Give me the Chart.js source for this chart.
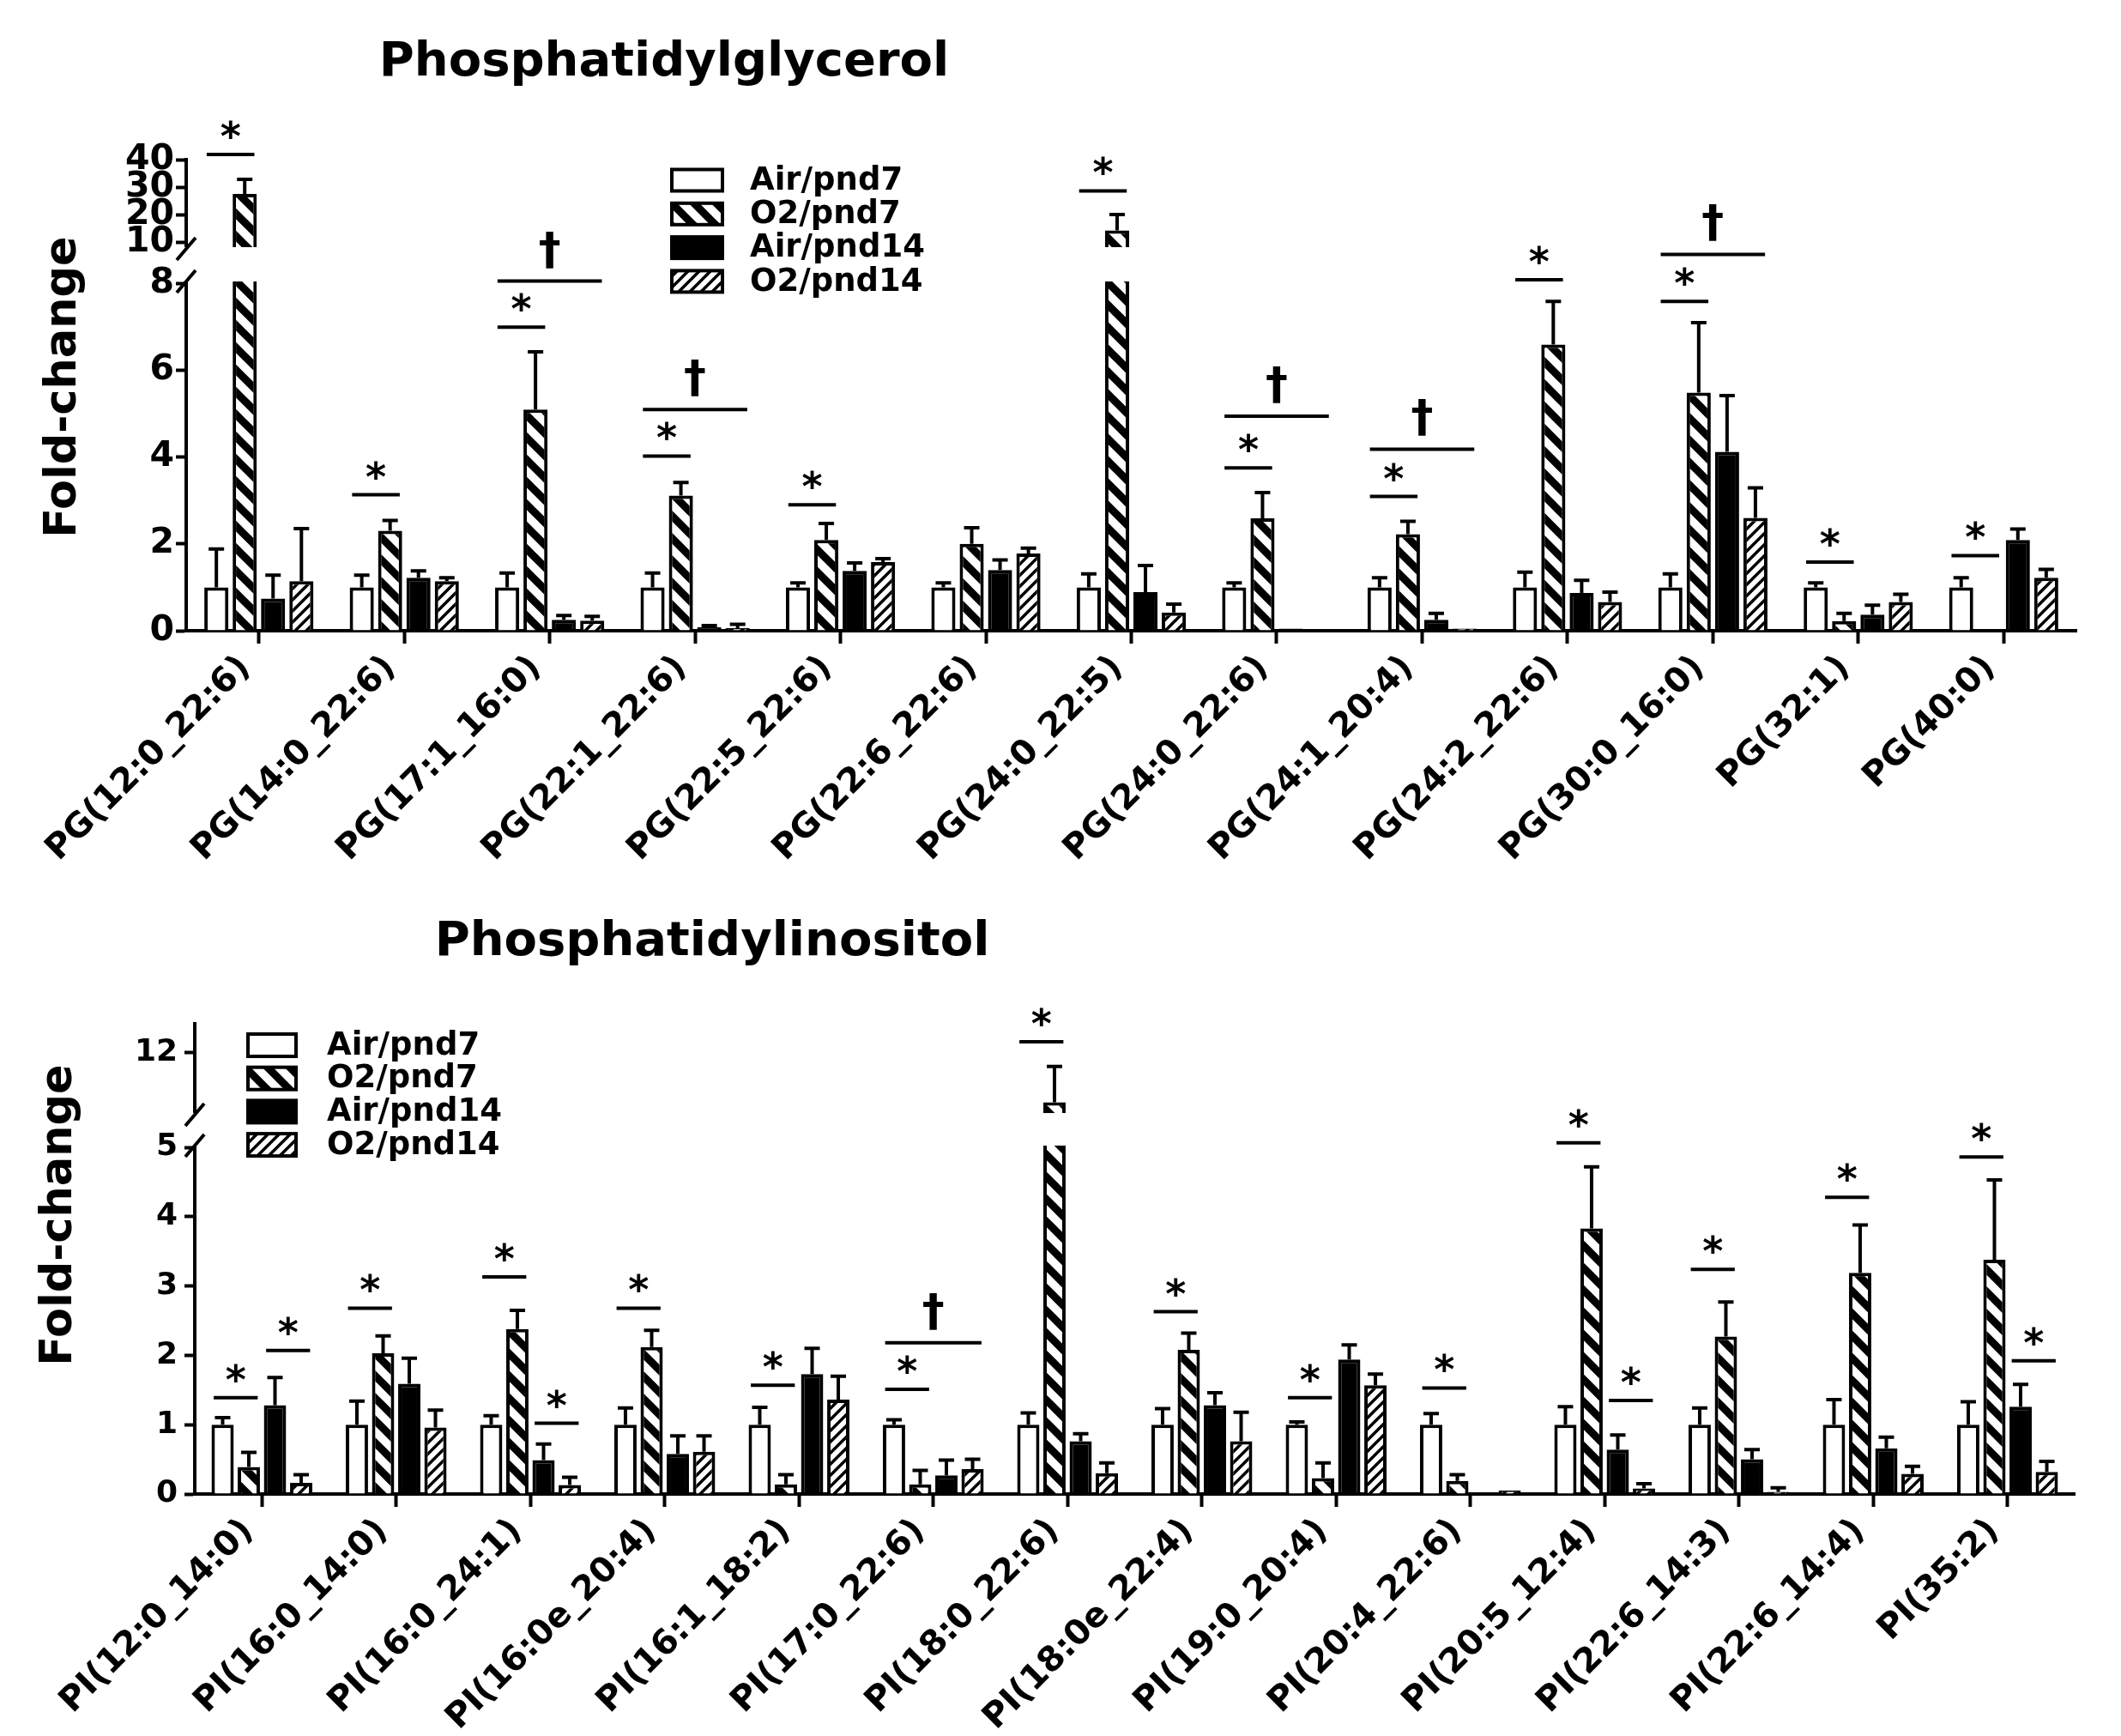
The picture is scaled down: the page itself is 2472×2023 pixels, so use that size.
<!DOCTYPE html>
<html>
<head>
<meta charset="utf-8">
<script src="https://cdn.jsdelivr.net/npm/chart.js@4.4.1/dist/chart.umd.min.js"></script>
<style>
  body { margin: 0; background: #fff; }
  #wrap { position: relative; width: 2472px; height: 2023px; background: #fff; }
  canvas { position: absolute; left: 0; }
  #pg-chart { top: 0; }
  #pi-chart { top: 1010px; }
</style>
</head>
<body>
<div id="wrap">
  <canvas id="pg-chart" width="2472" height="1010"></canvas>
  <canvas id="pi-chart" width="2472" height="1013"></canvas>
</div>
<script>
const groups = ['Air/pnd7', 'O2/pnd7', 'Air/pnd14', 'O2/pnd14']

// Phosphatidylglycerol
const pgLabels = ['PG(12:0_22:6)', 'PG(14:0_22:6)', 'PG(17:1_16:0)', 'PG(22:1_22:6)', 'PG(22:5_22:6)', 'PG(22:6_22:6)', 'PG(24:0_22:5)',
                  'PG(24:0_22:6)', 'PG(24:1_20:4)', 'PG(24:2_22:6)', 'PG(30:0_16:0)', 'PG(32:1)', 'PG(40:0)']
const pgAirP7 = [1, 1, 1, 1, 1, 1, 1, 1, 1, 1, 1, 1, 1]
const pgAirP7Err = [0.88, 0.28, 0.33, 0.33, 0.1, 0.1, 0.31, 0.1, 0.22, 0.35, 0.31, 0.1, 0.22]
const pgO2P7 = [27.5, 2.30, 5.09, 3.11, 2.09, 2.0, 14.2, 2.59, 2.22, 6.59, 5.48, 0.22, 0]
const pgO2P7Err = [5.3, 0.24, 1.33, 0.30, 0.38, 0.37, 5.8, 0.59, 0.30, 0.99, 1.61, 0.18, 0]
const pgAirP14 = [0.74, 1.22, 0.25, 0.08, 1.38, 1.40, 0.89, 0.05, 0.25, 0.87, 4.12, 0.37, 2.09]
const pgAirP14Err = [0.54, 0.16, 0.10, 0.04, 0.18, 0.23, 0.61, 0, 0.15, 0.29, 1.29, 0.22, 0.25]
const pgO2P14 = [1.14, 1.14, 0.23, 0.06, 1.58, 1.78, 0.42, 0, 0.05, 0.66, 2.60, 0.66, 1.22]
const pgO2P14Err = [1.21, 0.08, 0.10, 0.09, 0.08, 0.12, 0.19, 0, 0, 0.23, 0.69, 0.18, 0.19]
const pgTicks = [0, 2, 4, 6, 8, 10, 20, 30, 40]
// [category, from group, to group, line level, mark]
const pgSig = [[0, 0, 1, 41.9, '*'], [1, 0, 1, 3.13, '*'], [2, 0, 1, 6.99, '*'], [2, 0, 3, 8.1, '†'],
               [3, 0, 1, 4.02, '*'], [3, 0, 3, 5.09, '†'], [4, 0, 1, 2.90, '*'], [6, 0, 1, 28.6, '*'],
               [7, 0, 1, 3.75, '*'], [7, 0, 3, 4.94, '†'], [8, 0, 1, 3.09, '*'], [8, 0, 3, 4.18, '†'],
               [9, 0, 1, 8.17, '*'], [10, 0, 1, 7.58, '*'], [10, 0, 3, 9.4, '†'], [11, 0, 1, 1.58, '*'], [12, 0, 1, 1.73, '*']]

// Phosphatidylinositol
const piLabels = ['PI(12:0_14:0)', 'PI(16:0_14:0)', 'PI(16:0_24:1)', 'PI(16:0e_20:4)', 'PI(16:1_18:2)', 'PI(17:0_22:6)', 'PI(18:0_22:6)',
                  'PI(18:0e_22:4)', 'PI(19:0_20:4)', 'PI(20:4_22:6)', 'PI(20:5_12:4)', 'PI(22:6_14:3)', 'PI(22:6_14:4)', 'PI(35:2)']
const piAirP7 = [1, 1, 1, 1, 1, 1, 1, 1, 1, 1, 1, 1, 1, 1]
const piAirP7Err = [0.10, 0.34, 0.13, 0.24, 0.25, 0.07, 0.17, 0.23, 0.04, 0.16, 0.26, 0.24, 0.36, 0.33]
const piO2P7 = [0.39, 2.03, 2.38, 2.12, 0.14, 0.14, 10.2, 2.08, 0.23, 0.19, 3.83, 2.27, 3.19, 3.38]
const piO2P7Err = [0.21, 0.25, 0.27, 0.24, 0.14, 0.20, 1.3, 0.24, 0.22, 0.09, 0.89, 0.50, 0.69, 1.15]
const piAirP14 = [1.28, 1.59, 0.49, 0.58, 1.73, 0.27, 0.76, 1.28, 1.94, 0.02, 0.64, 0.50, 0.66, 1.26]
const piAirP14Err = [0.40, 0.37, 0.23, 0.26, 0.37, 0.22, 0.11, 0.18, 0.21, 0, 0.21, 0.14, 0.16, 0.32]
const piO2P14 = [0.16, 0.96, 0.13, 0.61, 1.36, 0.36, 0.30, 0.76, 1.57, 0.05, 0.08, 0.03, 0.29, 0.32]
const piO2P14Err = [0.12, 0.25, 0.11, 0.23, 0.34, 0.14, 0.15, 0.42, 0.16, 0, 0.07, 0.06, 0.11, 0.15]
const piTicks = [0, 1, 2, 3, 4, 5, 12]
const piSig = [[0, 0, 1, 1.39, '*'], [0, 2, 3, 2.07, '*'], [1, 0, 1, 2.68, '*'], [2, 0, 1, 3.13, '*'], [2, 2, 3, 1.02, '*'],
               [3, 0, 1, 2.68, '*'], [4, 0, 1, 1.57, '*'], [5, 0, 1, 1.51, '*'], [5, 0, 3, 2.18, '†'], [6, 0, 1, 12.4, '*'],
               [7, 0, 1, 2.63, '*'], [8, 0, 1, 1.39, '*'], [9, 0, 1, 1.53, '*'], [10, 0, 1, 5.56, '*'], [10, 2, 3, 1.35, '*'],
               [11, 0, 1, 3.24, '*'], [12, 0, 1, 4.28, '*'], [13, 0, 1, 4.86, '*'], [13, 2, 3, 1.92, '*']]

const FONT = '"DejaVu Sans", sans-serif'
Chart.defaults.font.family = FONT
Chart.defaults.font.weight = 'bold'
Chart.defaults.color = '#000'

// linear scale with a gap between lowMax and highMin
class BrokenLinearScale extends Chart.LinearScale {
    buildTicks() {
        this.start = this.min
        this.end = this.max
        return this.options.brk.ticks.map(v => ({value: v}))
    }
    getPixelForValue(value) {
        const b = this.options.brk
        let dec
        if (value <= b.lowMax) {
            dec = value / b.lowMax * b.lowFrac
        } else if (value < b.highMin) {
            dec = b.lowFrac + (value - b.lowMax) / (b.highMin - b.lowMax) * b.gapFrac
        } else {
            dec = b.lowFrac + b.gapFrac + (value - b.highMin) / (b.highMax - b.highMin) * (1 - b.lowFrac - b.gapFrac)
        }
        return this.getPixelForDecimal(dec)
    }
}
BrokenLinearScale.id = 'brokenLinear'
BrokenLinearScale.defaults = Chart.LinearScale.defaults
Chart.register(BrokenLinearScale)

function hatch(size, width, dir) {
    const c = document.createElement('canvas')
    c.width = size
    c.height = size
    const g = c.getContext('2d')
    g.fillStyle = '#fff'
    g.fillRect(0, 0, size, size)
    g.strokeStyle = '#000'
    g.lineWidth = width
    g.beginPath()
    for (let k = -1; k <= 1; k++) {
        if (dir == 'back') {
            g.moveTo(k * size - 4, -4)
            g.lineTo(k * size + size + 4, size + 4)
        } else {
            g.moveTo(k * size - 4, size + 4)
            g.lineTo(k * size + size + 4, -4)
        }
    }
    g.stroke()
    return g.createPattern(c, 'repeat')
}

const decorPlugin = {
    id: 'decor',
    afterDatasetsDraw(chart, args, opts) {
        const ctx = chart.ctx
        const area = chart.chartArea
        const y = chart.scales.y
        const brk = y.options.brk
        const pLow = y.getPixelForValue(brk.lowMax)
        const pHigh = y.getPixelForValue(brk.highMin)
        ctx.save()
        ctx.fillStyle = '#fff'
        ctx.fillRect(area.left - 4, pHigh + 6, area.right - area.left + 8, pLow - pHigh - 8)
        ctx.strokeStyle = '#000'
        ctx.fillStyle = '#000'
        ctx.lineWidth = 4
        ctx.lineCap = 'butt'
        for (const py of [pLow - 2, pHigh + 8]) {
            ctx.beginPath()
            ctx.moveTo(area.left - 11, py + 13)
            ctx.lineTo(area.left + 11, py - 13)
            ctx.stroke()
        }
        chart.data.datasets.forEach((ds, i) => {
            const meta = chart.getDatasetMeta(i)
            ds.data.forEach((v, j) => {
                const e = ds.errors[j]
                if (!e) return
                const bar = meta.data[j]
                const top = y.getPixelForValue(v)
                const end = y.getPixelForValue(v + e)
                ctx.beginPath()
                ctx.moveTo(bar.x, top)
                ctx.lineTo(bar.x, end)
                ctx.moveTo(bar.x - 9, end)
                ctx.lineTo(bar.x + 9, end)
                ctx.stroke()
            })
        })
        ctx.textAlign = 'center'
        ctx.textBaseline = 'alphabetic'
        opts.sig.forEach(([cat, from, to, level, mark]) => {
            const a = chart.getDatasetMeta(from).data[cat]
            const b = chart.getDatasetMeta(to).data[cat]
            const py = y.getPixelForValue(level)
            const x0 = a.x - a.width * 0.4
            const x1 = b.x + b.width * 0.4
            ctx.beginPath()
            ctx.moveTo(x0, py)
            ctx.lineTo(x1, py)
            ctx.stroke()
            if (mark == '*') {
                ctx.font = 'bold 46px ' + FONT
                ctx.fillText(mark, (x0 + x1) / 2, py - 5)
            } else {
                ctx.font = 'bold 52px ' + FONT
                ctx.fillText(mark, (x0 + x1) / 2, py - 20)
            }
        })
        ctx.restore()
    },
    afterDraw(chart, args, opts) {
        const ctx = chart.ctx
        ctx.save()
        ctx.fillStyle = '#000'
        ctx.textAlign = 'center'
        ctx.textBaseline = 'alphabetic'
        ctx.font = 'bold 56px ' + FONT
        ctx.fillText(opts.title.text, opts.title.x, opts.title.y)
        ctx.translate(opts.yTitle.x, opts.yTitle.y)
        ctx.rotate(-Math.PI / 2)
        ctx.textBaseline = 'middle'
        ctx.font = 'bold 51px ' + FONT
        ctx.fillText(opts.yTitle.text, 0, 0)
        ctx.restore()

        const lg = opts.legend
        ctx.save()
        ctx.lineWidth = 4
        ctx.strokeStyle = '#000'
        ctx.textAlign = 'left'
        ctx.textBaseline = 'middle'
        ctx.font = 'bold 37px ' + FONT
        chart.data.datasets.forEach((ds, i) => {
            const cy = lg.y + i * lg.step
            ctx.fillStyle = ds.backgroundColor
            ctx.fillRect(lg.x, cy - lg.h / 2, lg.w, lg.h)
            ctx.strokeRect(lg.x, cy - lg.h / 2, lg.w, lg.h)
            ctx.fillStyle = '#000'
            ctx.fillText(ds.label, lg.x + lg.textGap, cy + 1)
        })
        ctx.restore()
    }
}

function makeChart(canvasId, labels, values, errors, sig, cfg) {
    const fills = ['#fff', hatch(26, 9, 'back'), '#000', hatch(13, 3.5, 'fwd')]
    const datasets = groups.map((g, i) => ({
        label: g,
        data: values[i],
        errors: errors[i],
        backgroundColor: fills[i],
        borderColor: '#000',
        borderWidth: 4,
        barPercentage: 0.85,
        categoryPercentage: 0.78
    }))
    return new Chart(document.getElementById(canvasId), {
        type: 'bar',
        data: {labels: labels, datasets: datasets},
        options: {
            responsive: false,
            animation: false,
            events: [],
            layout: {padding: {top: cfg.top, right: cfg.right, left: 0, bottom: 0}},
            plugins: {
                legend: {display: false},
                tooltip: {enabled: false},
                decor: {sig: sig, title: cfg.title, yTitle: cfg.yTitle, legend: cfg.legend}
            },
            scales: {
                x: {
                    offset: true,
                    afterFit: (s) => { s.height = cfg.xHeight },
                    grid: {display: true, offset: false, drawOnChartArea: false, drawTicks: true,
                           tickLength: 15, tickWidth: 4, tickColor: '#000', color: '#000'},
                    border: {display: true, width: 4, color: '#000'},
                    ticks: {font: {size: 40, weight: 'bold'}, maxRotation: 45, minRotation: 45, padding: 5,
                            labelOffset: -16, autoSkip: false}
                },
                y: {
                    type: 'brokenLinear',
                    min: 0,
                    max: cfg.brk.highMax,
                    brk: cfg.brk,
                    afterFit: (s) => { s.width = cfg.yWidth },
                    grid: {display: true, drawOnChartArea: false, drawTicks: true,
                           tickLength: 12, tickWidth: 4, tickColor: '#000', color: '#000'},
                    border: {display: true, width: 4, color: '#000'},
                    ticks: {font: {size: cfg.tickSize, weight: 'bold'}, padding: cfg.tickPad, autoSkip: false,
                            callback: (v) => String(v)}
                }
            }
        },
        plugins: [decorPlugin]
    })
}

makeChart('pg-chart', pgLabels,
          [pgAirP7, pgO2P7, pgAirP14, pgO2P14],
          [pgAirP7Err, pgO2P7Err, pgAirP14Err, pgO2P14Err], pgSig, {
    top: 186, right: 52, xHeight: 275, yWidth: 217, tickSize: 41, tickPad: 2,
    brk: {lowMax: 8, highMin: 10, highMax: 40, lowFrac: 0.7377, gapFrac: 0.0874, ticks: pgTicks},
    title: {text: 'Phosphatidylglycerol', x: 774, y: 88},
    yTitle: {text: 'Fold-change', x: 75, y: 451},
    legend: {x: 783, y: 210, step: 39.3, w: 59, h: 25, textGap: 91}
})

makeChart('pi-chart', piLabels,
          [piAirP7, piO2P7, piAirP14, piO2P14],
          [piAirP7Err, piO2P7Err, piAirP14Err, piO2P14Err], piSig, {
    top: 183, right: 54, xHeight: 282, yWidth: 227, tickSize: 36, tickPad: 8,
    brk: {lowMax: 5, highMin: 10, highMax: 13.05, lowFrac: 0.7372, gapFrac: 0.0839, ticks: piTicks},
    title: {text: 'Phosphatidylinositol', x: 830, y: 103},
    yTitle: {text: 'Fold-change', x: 70, y: 406},
    legend: {x: 289, y: 208, step: 38.7, w: 56, h: 26, textGap: 92}
})
</script>
</body>
</html>
